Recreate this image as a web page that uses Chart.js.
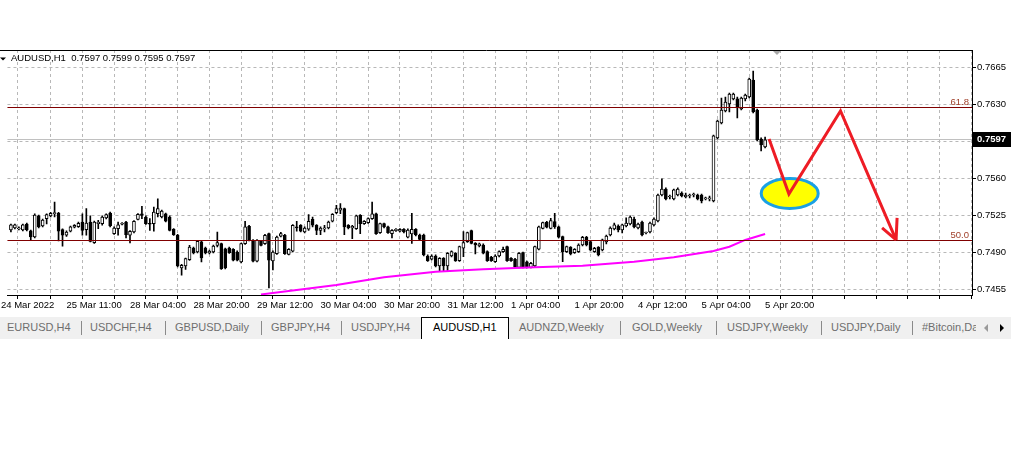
<!DOCTYPE html>
<html>
<head>
<meta charset="utf-8">
<title>AUDUSD,H1</title>
<script src="https://cdn.jsdelivr.net/npm/chart.js@4.4.1/dist/chart.umd.min.js"></script>
<style>
  html, body { margin: 0; padding: 0; background: #fff; }
  body { position: relative; width: 1011px; height: 460px; overflow: hidden; font-family: "Liberation Sans", Arial, sans-serif; }
  #chart { position: absolute; left: 0; top: 0; }
  #tabs { position: absolute; left: 0; top: 317px; width: 1011px; height: 22px; background: #f0f0f0; overflow: hidden; }
  .tab { position: absolute; top: 4px; font-size: 11px; color: #6e6e6e; white-space: nowrap; }
  .sep { position: absolute; top: 4px; width: 1px; height: 14px; background: #8a8a8a; }
  .active { position: absolute; top: 0; height: 22px; background: #fff; border: 1px solid #000; border-bottom: none; }
  #arrows { position: absolute; left: 976px; top: 0; width: 35px; height: 22px; background: #f0f0f0; }
  .arr { position: absolute; top: 7px; width: 0; height: 0; border-top: 4px solid transparent; border-bottom: 4px solid transparent; }
</style>
</head>
<body>
<canvas id="chart" width="1011" height="316"></canvas>
<div id="tabs"></div>
<script>
// AUDUSD H1 candles (bar 0 = leftmost visible)
var opens = [
  0.75111, 0.75130, 0.75121, 0.75111, 0.75168, 0.75102, 0.75045, 0.75244, 0.75149, 0.75218,
  0.75244, 0.75265, 0.75269, 0.75114, 0.75061, 0.75099, 0.75137, 0.75142, 0.75187, 0.75114,
  0.75187, 0.74991, 0.75171, 0.75171, 0.75225, 0.75272, 0.75076, 0.75124, 0.75165, 0.75187,
  0.75061, 0.75092, 0.75212, 0.75263, 0.75234, 0.75171, 0.75171, 0.75265, 0.75234, 0.75265,
  0.75234, 0.75118, 0.75061, 0.74752, 0.74771, 0.74830, 0.74941, 0.74903, 0.74998, 0.74941,
  0.74894, 0.74903, 0.74966, 0.74982, 0.74934, 0.74941, 0.74929, 0.74903, 0.74809, 0.74982,
  0.75146, 0.75014, 0.74815, 0.75004, 0.74982, 0.75076, 0.74818, 0.74887, 0.75052, 0.75061,
  0.74881, 0.74910, 0.75140, 0.75156, 0.75092, 0.75118, 0.75212, 0.75156, 0.75108, 0.75121,
  0.75130, 0.75194, 0.75275, 0.75298, 0.75313, 0.75156, 0.75130, 0.75124, 0.75250, 0.75171,
  0.75180, 0.75218, 0.75265, 0.75086, 0.75171, 0.75140, 0.75076, 0.75105, 0.75099, 0.75118,
  0.75042, 0.75073, 0.75118, 0.75064, 0.75064, 0.74865, 0.74834, 0.74865, 0.74771, 0.74844,
  0.74771, 0.74865, 0.74891, 0.74821, 0.74938, 0.75001, 0.75105, 0.74985, 0.74960, 0.74969,
  0.74906, 0.74853, 0.74811, 0.74865, 0.74906, 0.74953, 0.74844, 0.74834, 0.74758, 0.74897,
  0.74811, 0.74758, 0.74771, 0.74929, 0.75127, 0.75184, 0.75127, 0.75190, 0.75142, 0.75048,
  0.74906, 0.74948, 0.74897, 0.74906, 0.74969, 0.75042, 0.75001, 0.74906, 0.74948, 0.74922,
  0.74998, 0.75064, 0.75121, 0.75149, 0.75111, 0.75149, 0.75168, 0.75215, 0.75130, 0.75187,
  0.75083, 0.75092, 0.75159, 0.75196, 0.75442, 0.75499, 0.75423, 0.75405, 0.75442, 0.75461,
  0.75423, 0.75433, 0.75442, 0.75442, 0.75442, 0.75405, 0.75405, 0.75386, 0.75982, 0.76123,
  0.76237, 0.76303, 0.76351, 0.76351, 0.76256, 0.76351, 0.76369, 0.76530, 0.76246, 0.75972,
  0.75896
];
var highs = [
  0.75168, 0.75168, 0.75140, 0.75168, 0.75177, 0.75111, 0.75263, 0.75253, 0.75215, 0.75263,
  0.75277, 0.75376, 0.75277, 0.75121, 0.75102, 0.75149, 0.75163, 0.75187, 0.75265, 0.75313,
  0.75244, 0.75196, 0.75203, 0.75244, 0.75263, 0.75281, 0.75140, 0.75187, 0.75182, 0.75194,
  0.75106, 0.75201, 0.75267, 0.75335, 0.75244, 0.75218, 0.75329, 0.75407, 0.75300, 0.75272,
  0.75244, 0.75125, 0.75069, 0.74785, 0.74846, 0.74966, 0.74950, 0.75014, 0.75007, 0.74950,
  0.74922, 0.74969, 0.75092, 0.74988, 0.74941, 0.74950, 0.74936, 0.74913, 0.74988, 0.75194,
  0.75154, 0.75021, 0.75021, 0.75012, 0.75069, 0.75083, 0.74913, 0.75054, 0.75088, 0.75069,
  0.74936, 0.75163, 0.75194, 0.75163, 0.75140, 0.75256, 0.75234, 0.75163, 0.75140, 0.75156,
  0.75196, 0.75267, 0.75345, 0.75360, 0.75319, 0.75163, 0.75154, 0.75253, 0.75258, 0.75201,
  0.75225, 0.75376, 0.75272, 0.75177, 0.75177, 0.75149, 0.75116, 0.75125, 0.75125, 0.75125,
  0.75121, 0.75269, 0.75125, 0.75073, 0.75073, 0.74875, 0.74875, 0.74875, 0.74851, 0.74851,
  0.74898, 0.74913, 0.74898, 0.74960, 0.75095, 0.75092, 0.75111, 0.74993, 0.74988, 0.74979,
  0.74913, 0.74861, 0.74875, 0.74913, 0.74950, 0.74960, 0.74851, 0.74842, 0.74898, 0.74903,
  0.74818, 0.74804, 0.74960, 0.75149, 0.75187, 0.75192, 0.75222, 0.75269, 0.75149, 0.75054,
  0.74960, 0.74955, 0.74936, 0.74979, 0.75050, 0.75050, 0.75007, 0.74946, 0.74955, 0.75026,
  0.75064, 0.75140, 0.75177, 0.75159, 0.75168, 0.75225, 0.75244, 0.75234, 0.75177, 0.75196,
  0.75092, 0.75187, 0.75225, 0.75452, 0.75594, 0.75509, 0.75442, 0.75499, 0.75509, 0.75471,
  0.75461, 0.75452, 0.75461, 0.75452, 0.75452, 0.75423, 0.75433, 0.76010, 0.76152, 0.76360,
  0.76369, 0.76407, 0.76407, 0.76369, 0.76369, 0.76398, 0.76549, 0.76615, 0.76256, 0.75982,
  0.75991
];
var lows = [
  0.75092, 0.75121, 0.75111, 0.75102, 0.75102, 0.75017, 0.75036, 0.75130, 0.75140, 0.75168,
  0.75234, 0.75234, 0.75007, 0.74957, 0.75050, 0.75092, 0.75130, 0.75135, 0.75061, 0.75061,
  0.74998, 0.74984, 0.75124, 0.75156, 0.75215, 0.75140, 0.75069, 0.75061, 0.75159, 0.75036,
  0.74988, 0.75083, 0.75206, 0.75218, 0.75163, 0.75108, 0.75099, 0.75234, 0.75225, 0.75187,
  0.75102, 0.75059, 0.74761, 0.74683, 0.74739, 0.74823, 0.74884, 0.74894, 0.74809, 0.74884,
  0.74884, 0.74894, 0.74950, 0.74738, 0.74742, 0.74889, 0.74818, 0.74818, 0.74799, 0.74974,
  0.75007, 0.74809, 0.74809, 0.74960, 0.74974, 0.74563, 0.74733, 0.74879, 0.75045, 0.74879,
  0.74875, 0.74903, 0.75099, 0.75092, 0.75083, 0.75108, 0.75140, 0.75067, 0.75067, 0.75092,
  0.75121, 0.75187, 0.75265, 0.75265, 0.75067, 0.75121, 0.75029, 0.75116, 0.75076, 0.75163,
  0.75173, 0.75211, 0.75069, 0.75078, 0.75130, 0.75078, 0.75036, 0.75097, 0.75092, 0.75083,
  0.75036, 0.74985, 0.75054, 0.75017, 0.74865, 0.74813, 0.74827, 0.74761, 0.74717, 0.74717,
  0.74717, 0.74856, 0.74813, 0.74813, 0.74859, 0.74993, 0.74979, 0.74884, 0.74950, 0.74884,
  0.74813, 0.74813, 0.74804, 0.74856, 0.74898, 0.74813, 0.74813, 0.74756, 0.74752, 0.74752,
  0.74752, 0.74752, 0.74761, 0.74922, 0.75121, 0.75130, 0.75121, 0.75127, 0.75036, 0.74811,
  0.74898, 0.74875, 0.74889, 0.74898, 0.74960, 0.74960, 0.74913, 0.74898, 0.74865, 0.74913,
  0.74979, 0.75054, 0.75111, 0.75092, 0.75083, 0.75140, 0.75159, 0.75130, 0.75121, 0.75054,
  0.75073, 0.75083, 0.75149, 0.75187, 0.75433, 0.75395, 0.75405, 0.75395, 0.75433, 0.75423,
  0.75414, 0.75414, 0.75423, 0.75395, 0.75367, 0.75395, 0.75386, 0.75376, 0.75972, 0.76114,
  0.76228, 0.76228, 0.76341, 0.76171, 0.76246, 0.76332, 0.76360, 0.76218, 0.75953, 0.75859,
  0.75887
];
var closes = [
  0.75159, 0.75159, 0.75130, 0.75159, 0.75111, 0.75045, 0.75253, 0.75140, 0.75206, 0.75256,
  0.75269, 0.75275, 0.75099, 0.75061, 0.75092, 0.75140, 0.75156, 0.75175, 0.75108, 0.75177,
  0.75004, 0.75187, 0.75187, 0.75234, 0.75256, 0.75149, 0.75130, 0.75161, 0.75175, 0.75067,
  0.75099, 0.75194, 0.75260, 0.75250, 0.75171, 0.75165, 0.75281, 0.75313, 0.75291, 0.75194,
  0.75108, 0.75067, 0.74771, 0.74777, 0.74840, 0.74950, 0.74894, 0.75004, 0.74846, 0.74894,
  0.74910, 0.74960, 0.74991, 0.74745, 0.74752, 0.74897, 0.74825, 0.74825, 0.74982, 0.75140,
  0.75014, 0.74815, 0.75014, 0.74966, 0.75061, 0.74825, 0.74903, 0.75045, 0.75076, 0.74887,
  0.74929, 0.75156, 0.75130, 0.75099, 0.75130, 0.75194, 0.75156, 0.75108, 0.75130, 0.75130,
  0.75187, 0.75260, 0.75313, 0.75319, 0.75140, 0.75130, 0.75146, 0.75244, 0.75171, 0.75194,
  0.75218, 0.75265, 0.75076, 0.75171, 0.75140, 0.75086, 0.75108, 0.75118, 0.75118, 0.75092,
  0.75111, 0.75118, 0.75064, 0.75023, 0.74875, 0.74821, 0.74865, 0.74771, 0.74844, 0.74771,
  0.74891, 0.74906, 0.74821, 0.74953, 0.74991, 0.75086, 0.74985, 0.74969, 0.74979, 0.74891,
  0.74821, 0.74821, 0.74865, 0.74906, 0.74929, 0.74821, 0.74821, 0.74764, 0.74891, 0.74758,
  0.74758, 0.74796, 0.74953, 0.75142, 0.75180, 0.75137, 0.75199, 0.75142, 0.75042, 0.74906,
  0.74953, 0.74884, 0.74929, 0.74969, 0.75042, 0.74969, 0.74922, 0.74938, 0.74875, 0.75017,
  0.75054, 0.75130, 0.75159, 0.75111, 0.75159, 0.75177, 0.75234, 0.75140, 0.75168, 0.75064,
  0.75088, 0.75177, 0.75215, 0.75442, 0.75499, 0.75405, 0.75423, 0.75490, 0.75499, 0.75433,
  0.75442, 0.75442, 0.75442, 0.75405, 0.75386, 0.75405, 0.75414, 0.76001, 0.76142, 0.76246,
  0.76322, 0.76398, 0.76398, 0.76265, 0.76360, 0.76388, 0.76540, 0.76228, 0.75963, 0.75915,
  0.75963
];

// moving average (magenta), sampled along the drawn line
var maBars = [63, 72, 82, 94, 107, 119, 132, 144, 157, 167, 177, 181, 185, 190];
var maValues = [0.74501, 0.74544, 0.74591, 0.74664, 0.74717, 0.74739, 0.74758, 0.74773, 0.74811, 0.74853, 0.74913, 0.74953, 0.75017, 0.75073];

// hand drawn forecast zigzag + marked zone
var zigzagBars = [191, 196, 209, 223];
var zigzagPrices = [0.75972, 0.75452, 0.76237, 0.75017];
var zoneBar = 196.2;
var zonePrice = 0.75457;

var fibLevels = [0.7627, 0.7502];
var fibNames = ['61.8', '50.0'];
var bidPrice = 0.7597;
var lastBar = [0.7597, 0.7599, 0.7595, 0.7597];

var priceTicks = [0.7455, 0.7490, 0.7525, 0.7560, 0.7595, 0.7630, 0.7665];
var timeLabels = ['24 Mar 2022', '25 Mar 11:00', '28 Mar 04:00', '28 Mar 20:00', '29 Mar 12:00', '30 Mar 04:00',
  '30 Mar 20:00', '31 Mar 12:00', '1 Apr 04:00', '1 Apr 20:00', '4 Apr 12:00', '5 Apr 04:00', '5 Apr 20:00'];
var timeLabelBars = [-2.5, 14, 30, 46, 62, 78, 94, 110, 126, 142, 158, 174, 190];

var tabNames = ['EURUSD,H4', 'USDCHF,H4', 'GBPUSD,Daily', 'GBPJPY,H4', 'USDJPY,H4', 'AUDUSD,H1',
  'AUDNZD,Weekly', 'GOLD,Weekly', 'USDJPY,Weekly', 'USDJPY,Daily', '#Bitcoin,Daily'];
var activeTab = 5;

// ---- tab strip under the chart
var tabLeft = [7, 90, 175, 271, 351, 433, 519, 632, 727, 831, 922];
var sepLeft = [81, 165, 261, 341, 620, 716, 821, 912];
var tabsEl = document.getElementById('tabs');
var act = document.createElement('div');
act.className = 'active';
act.style.left = '421px';
act.style.width = '86px';
tabsEl.appendChild(act);
tabNames.forEach(function (name, k) {
  var el = document.createElement('div');
  el.className = 'tab';
  el.textContent = name;
  el.style.left = tabLeft[k] + 'px';
  if (k === activeTab) el.style.color = '#000';
  tabsEl.appendChild(el);
});
sepLeft.forEach(function (x) {
  var s = document.createElement('div');
  s.className = 'sep';
  s.style.left = x + 'px';
  tabsEl.appendChild(s);
});
var arrows = document.createElement('div');
arrows.id = 'arrows';
arrows.innerHTML = '<div class="arr" style="left:8px;border-right:4px solid #9a9a9a"></div>' +
  '<div class="arr" style="left:24px;border-left:4px solid #000"></div>';
tabsEl.appendChild(arrows);

// ---- chart
var FONT = '"Liberation Sans", Arial, sans-serif';
var gridBars = [];
for (var g = 6; g <= 242; g += 8) gridBars.push(g);

var up = closes.map(function (c, i) { return c >= opens[i]; });

var overlay = {
  id: 'overlay',
  beforeDatasetsDraw: function (chart) {
    var ctx = chart.ctx, a = chart.chartArea, x = chart.scales.x, y = chart.scales.y;
    ctx.save();
    // bid line
    var by = Math.round(y.getPixelForValue(bidPrice)) + 0.5;
    ctx.strokeStyle = '#c0c0c0';
    ctx.lineWidth = 1;
    ctx.beginPath(); ctx.moveTo(a.left, by); ctx.lineTo(a.right, by); ctx.stroke();
    // marked zone
    ctx.beginPath();
    ctx.ellipse(x.getPixelForValue(zoneBar), y.getPixelForValue(zonePrice), 28.5, 15, 0, 0, Math.PI * 2);
    ctx.fillStyle = '#ffff00';
    ctx.fill();
    ctx.lineWidth = 3;
    ctx.strokeStyle = '#1aa0e4';
    ctx.stroke();
    ctx.restore();
  },
  afterDatasetsDraw: function (chart) {
    var ctx = chart.ctx, a = chart.chartArea, x = chart.scales.x, y = chart.scales.y;
    ctx.save();
    // fibo levels
    ctx.font = '9.5px ' + FONT;
    fibLevels.forEach(function (v, k) {
      var fy = Math.round(y.getPixelForValue(v)) + 0.5;
      ctx.strokeStyle = '#800000';
      ctx.lineWidth = 1;
      ctx.beginPath(); ctx.moveTo(a.left, fy); ctx.lineTo(a.right, fy); ctx.stroke();
      ctx.fillStyle = '#a0402a';
      ctx.textAlign = 'right';
      ctx.textBaseline = 'alphabetic';
      ctx.fillText(fibNames[k], a.right - 3, fy - 3);
    });
    // arrow head at end of zigzag
    var n = zigzagBars.length - 1;
    var ex = x.getPixelForValue(zigzagBars[n]), ey = y.getPixelForValue(zigzagPrices[n]);
    ctx.strokeStyle = '#ee1c25';
    ctx.lineWidth = 3;
    ctx.beginPath();
    ctx.moveTo(ex + 1, ey - 22); ctx.lineTo(ex, ey);
    ctx.moveTo(ex - 14, ey - 12); ctx.lineTo(ex, ey);
    ctx.stroke();
    ctx.restore();
  },
  afterDraw: function (chart) {
    var ctx = chart.ctx, a = chart.chartArea, x = chart.scales.x, y = chart.scales.y;
    ctx.save();
    // top frame line
    ctx.strokeStyle = '#000';
    ctx.lineWidth = 1;
    ctx.beginPath(); ctx.moveTo(0, a.top + 0.5); ctx.lineTo(a.right + 1, a.top + 0.5); ctx.stroke();
    // chart shift marker
    var sx = x.getPixelForValue(193);
    ctx.fillStyle = '#a8a8a8';
    ctx.beginPath(); ctx.moveTo(sx - 4, a.top + 1); ctx.lineTo(sx + 4, a.top + 1); ctx.lineTo(sx, a.top + 5); ctx.closePath(); ctx.fill();
    // symbol line
    ctx.fillStyle = '#000';
    ctx.beginPath(); ctx.moveTo(0, 57.5); ctx.lineTo(6, 57.5); ctx.lineTo(3, 60.5); ctx.closePath(); ctx.fill();
    ctx.font = '9.5px ' + FONT;
    ctx.textAlign = 'left';
    ctx.textBaseline = 'middle';
    ctx.fillText('AUDUSD,H1  ' + lastBar.map(function (v) { return v.toFixed(4); }).join(' '), 11, 58.5);
    // current price box
    var by = Math.round(y.getPixelForValue(bidPrice));
    ctx.fillStyle = '#000';
    ctx.fillRect(a.right + 1, by - 7, chart.width - a.right - 1, 15);
    ctx.fillStyle = '#fff';
    ctx.font = 'bold 9.5px ' + FONT;
    ctx.fillText(bidPrice.toFixed(4), a.right + 5, by + 0.5);
    ctx.restore();
  }
};

new Chart(document.getElementById('chart'), {
  type: 'bar',
  data: {
    datasets: [
      {
        type: 'line',
        label: 'forecast',
        data: zigzagBars.map(function (b, k) { return { x: b, y: zigzagPrices[k] }; }),
        borderColor: '#ee1c25',
        borderWidth: 3,
        pointRadius: 0,
        tension: 0,
        order: 0
      },
      {
        type: 'line',
        label: 'MA',
        data: maBars.map(function (b, k) { return { x: b, y: maValues[k] }; }),
        borderColor: '#ff00ff',
        borderWidth: 2,
        pointRadius: 0,
        tension: 0,
        order: 1
      },
      {
        label: 'body',
        data: opens.map(function (o, i) { return { x: i, y: [o, closes[i]] }; }),
        backgroundColor: up.map(function (u) { return u ? '#ffffff' : '#000000'; }),
        borderColor: '#000000',
        borderWidth: 1,
        borderSkipped: false,
        barThickness: 3,
        minBarLength: 1,
        grouped: false,
        order: 2
      },
      {
        label: 'wick',
        data: lows.map(function (l, i) { return { x: i, y: [l, highs[i]] }; }),
        backgroundColor: '#000000',
        borderWidth: 0,
        barThickness: 1,
        minBarLength: 1,
        grouped: false,
        order: 3
      }
    ]
  },
  options: {
    responsive: false,
    animation: false,
    events: [],
    layout: { padding: { top: 50, left: 0, right: 0, bottom: 0 } },
    plugins: { legend: { display: false }, tooltip: { enabled: false } },
    scales: {
      x: {
        type: 'linear',
        position: 'bottom',
        min: -0.875,
        max: 242.125,
        offset: false,
        afterBuildTicks: function (s) {
          s.ticks = [{ value: timeLabelBars[0] }].concat(gridBars.map(function (v) { return { value: v }; }));
        },
        afterFit: function (s) { s.height = 21; },
        grid: { color: '#b8b8b8', lineWidth: 1, tickColor: '#000', tickLength: 4, tickBorderDash: [] },
        border: { display: true, color: '#000', width: 1, dash: [3, 3] },
        ticks: {
          autoSkip: false,
          maxRotation: 0,
          minRotation: 0,
          align: 'start',
          padding: 1,
          color: '#000',
          font: { family: FONT, size: 9.5 },
          callback: function (v) {
            var k = timeLabelBars.indexOf(v);
            return k >= 0 ? timeLabels[k] : '';
          }
        }
      },
      y: {
        type: 'linear',
        position: 'right',
        min: 0.74496,
        max: 0.76814,
        afterBuildTicks: function (s) {
          s.ticks = priceTicks.map(function (v) { return { value: v }; });
        },
        afterFit: function (s) { s.width = 39; },
        grid: { color: '#b8b8b8', lineWidth: 1, tickColor: '#000', tickLength: 4, tickBorderDash: [] },
        border: { display: true, color: '#000', width: 1, dash: [3, 3] },
        ticks: {
          padding: 1,
          color: '#000',
          font: { family: FONT, size: 9.5 },
          callback: function (v) { return v.toFixed(4); }
        }
      }
    }
  },
  plugins: [overlay]
});
</script>
</body>
</html>
